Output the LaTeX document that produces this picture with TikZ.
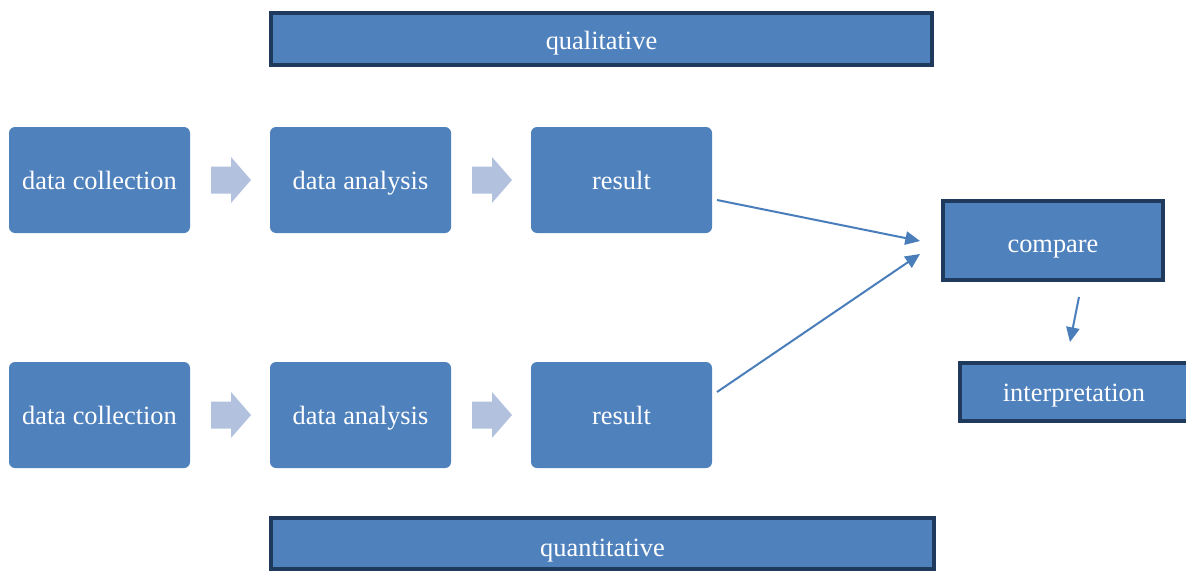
\documentclass[tikz,border=0pt]{standalone}
\usepackage{fontspec}
\setmainfont{Liberation Serif}
\usetikzlibrary{arrows.meta}
\definecolor{boxblue}{HTML}{4F81BD}
\definecolor{navy}{HTML}{1F3A5C}
\definecolor{lightarrow}{HTML}{B2C2DE}
\definecolor{linkblue}{HTML}{4A7EBB}
\newdimen\pxu \pxu=0.75pt
\tikzset{
  txt/.style={text=white, font=\fontsize{19.8pt}{22pt}\selectfont, text height=17.5pt, text depth=4pt},
  roundbox/.style={txt, fill=boxblue, rounded corners=6\pxu, minimum width=181\pxu, minimum height=106\pxu, inner sep=0pt},
  framebox/.style={fill=boxblue, draw=navy, line width=4\pxu, inner sep=0pt},
  link/.style={draw=linkblue, line width=1.5pt, -{Triangle[length=11pt, width=10pt]}},
  blockarrow/.style={fill=lightarrow}
}
\begin{document}
\begin{tikzpicture}[x=0.75pt,y=-0.75pt]
\useasboundingbox (0,0) rectangle (1186,571);
\fill[white] (0,0) rectangle (1186,571);

\node[framebox, minimum width=661\pxu, minimum height=52\pxu] (qual) at (601.5,39) {};
\node[txt] (qualt) at (601.5,41) {qualitative};
\node[framebox, minimum width=663\pxu, minimum height=51\pxu] (quan) at (602.5,543.5) {};
\node[txt] (quant) at (602.5,547) {quantitative};

\node[roundbox] (dc1) at (99.5,180) {data collection};
\node[roundbox] (da1) at (360.5,180) {data analysis};
\node[roundbox] (r1)  at (621.5,180) {result};
\node[roundbox] (dc2) at (99.5,415) {data collection};
\node[roundbox] (da2) at (360.5,415) {data analysis};
\node[roundbox] (r2)  at (621.5,415) {result};

\foreach \x/\y in {211/180,472/180,211/415,472/415}{
  \fill[blockarrow] (\x,\y-13.5) -- (\x+20,\y-13.5) -- (\x+20,\y-23) -- (\x+40,\y) -- (\x+20,\y+23) -- (\x+20,\y+13.5) -- (\x,\y+13.5) -- cycle;
}

\node[framebox, minimum width=220\pxu, minimum height=79\pxu] (cmp) at (1053,240.5) {};
\node[txt] (cmpt) at (1053,243) {compare};
\node[framebox, minimum width=228\pxu, minimum height=58\pxu] (interp) at (1074,392) {};
\node[txt] (interpt) at (1074,392) {interpretation};

\coordinate (r1s) at (717,200);
\coordinate (r2s) at (717,392);
\coordinate (c1) at (920,241);
\coordinate (c2) at (920,254);
\coordinate (cs) at (1079,297);
\coordinate (ie) at (1070,342);

\draw[link] (r1s) -- (c1);
\draw[link] (r2s) -- (c2);
\draw[link] (cs) -- (ie);
\end{tikzpicture}
\end{document}
